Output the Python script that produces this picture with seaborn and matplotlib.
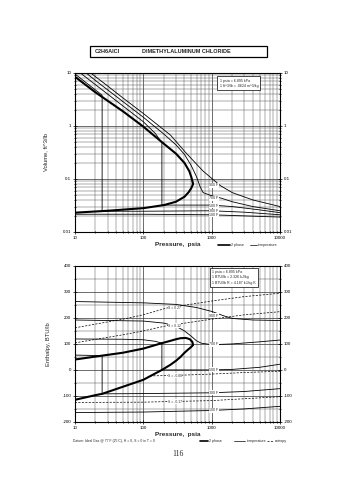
import numpy as np
import pandas as pd
import matplotlib
matplotlib.use("Agg")
import matplotlib.pyplot as plt
import seaborn as sns
from matplotlib.ticker import LogLocator, FixedLocator, NullFormatter, FixedFormatter, MultipleLocator

# ---------------- data ----------------
x_ticks = [10, 100, 1000, 10000]
x_tick_labels = ["10", "100", "1000", "10000"]
v_ticks = [0.01, 0.1, 1, 10]
v_tick_labels = ["0.01", "0.1", "1", "10"]
h_ticks = [-200, -100, 0, 100, 200, 300, 400]
h_tick_labels = ["-200", "-100", "0", "100", "200", "300", "400"]

# saturation dome, volume chart
liq_P_v = [10, 30, 100, 200, 300, 400, 460, 500, 535]
liq_v = [0.023, 0.025, 0.028, 0.032, 0.037, 0.046, 0.056, 0.066, 0.08]
vap_P_v = [535, 520, 505, 470, 400, 300, 200, 100, 50, 20, 10]
vap_v = [0.08, 0.092, 0.107, 0.14, 0.2, 0.3, 0.46, 0.97, 1.9, 4.3, 8.5]

# isotherms, volume chart
iso_names = ["900 F", "700 F", "500 F", "300 F", "100 F"]
t1_P_v = [17, 30, 50, 100, 250, 430, 750, 1330, 2000, 4000, 10000]
t1_v = [10, 5.7, 3.4, 1.72, 0.67, 0.3, 0.14, 0.075, 0.055, 0.04, 0.030]
t2_P_v = [14.6, 20, 50, 100, 200, 300, 400, 500, 600, 680, 750, 1000, 1400, 2000, 4000, 10000]
t2_v = [10, 7.2, 2.9, 1.46, 0.7, 0.44, 0.29, 0.18, 0.11, 0.07, 0.055, 0.048, 0.043, 0.037, 0.030, 0.025]
t3_P_v = [12, 20, 50, 100, 150, 187, 187, 500, 1000, 2000, 5000, 10000]
t3_v = [10, 6.0, 2.4, 1.2, 0.72, 0.48, 0.032, 0.032, 0.032, 0.030, 0.026, 0.023]
t4_P_v = [10, 25, 25, 100, 1000, 3000, 10000]
t4_v = [9.6, 3.8, 0.0245, 0.0245, 0.025, 0.0235, 0.021]
t5_P_v = [10, 100, 1000, 3000, 10000]
t5_v = [0.0215, 0.0215, 0.021, 0.020, 0.019]

# saturation dome, enthalpy chart
liq_P_h = [10, 20, 25, 50, 100, 187, 250, 300, 350, 400, 450, 500, 535]
liq_h = [-115, -97, -92, -65, -38, 0, 20, 35, 50, 66, 78, 88, 96]
vap_P_h = [535, 520, 480, 420, 350, 300, 250, 187, 100, 50, 25, 10]
vap_h = [96, 108, 118, 123, 122, 118, 112, 103, 82, 66, 55, 40]

# isotherms, enthalpy chart
t1_P_h = [10, 100, 300, 600, 1000, 1500, 2000, 4000, 10000]
t1_h = [263, 258, 252, 240, 225, 208, 198, 192, 190]
t2_P_h = [10, 100, 200, 300, 400, 500, 600, 700, 1000, 2000, 5000, 10000]
t2_h = [192, 188, 180, 168, 150, 130, 112, 103, 97, 100, 108, 115]
t3_P_h = [10, 50, 100, 150, 187, 187, 500, 1000, 2000, 5000, 10000]
t3_h = [119, 118, 116, 110, 103, 0, 0, 0, 2, 10, 22]
t4_P_h = [10, 25, 25, 100, 1000, 3000, 10000]
t4_h = [57, 55, -92, -91, -88, -83, -72]
t5_P_h = [10, 100, 1000, 3000, 10000]
t5_h = [-164, -162, -156, -150, -140]

# entropy lines, enthalpy chart
ent_names = ["S = 0.27", "S = 0.12", "S = -0.08", "S = -0.17"]
s1_P = [10, 50, 100, 220, 1000, 3000, 10000]
s1_h = [162, 195, 212, 238, 265, 282, 295]
s2_P = [10, 50, 100, 220, 1000, 3000, 10000]
s2_h = [104, 135, 150, 170, 195, 212, 224]
s3_P = [125, 300, 1000, 3000, 10000]
s3_h = [-23, -21, -16, -10, -5]
s4_P = [10, 100, 1000, 10000]
s4_h = [-125, -124, -118, -103]

# ---------------- style ----------------
sns.set_theme(style="white")
plt.rcParams["font.family"] = ["Liberation Sans", "DejaVu Sans"]

fig = plt.figure(figsize=(3.55, 4.8), dpi=100)
fig.patch.set_facecolor("white")
ax1 = fig.add_axes([0.211, 0.517, 0.578, 0.331])
ax2 = fig.add_axes([0.211, 0.121, 0.578, 0.325])

TICK_FS = 3.2


def draw(ax, P, y, lw, ls="-"):
    sns.lineplot(x=P, y=y, ax=ax, sort=False, estimator=None, color="black",
                 lw=lw, linestyle=ls, legend=False)


def style_axes(ax, logy):
    ax.set_xscale("log")
    ax.set_xlim(10, 10000)
    ax.xaxis.set_major_locator(FixedLocator(x_ticks))
    ax.xaxis.set_major_formatter(FixedFormatter(x_tick_labels))
    ax.xaxis.set_minor_locator(LogLocator(base=10, subs=np.arange(2, 10)))
    ax.xaxis.set_minor_formatter(NullFormatter())
    if logy:
        ax.set_yscale("log")
        ax.set_ylim(0.01, 10)
        ax.yaxis.set_major_locator(FixedLocator(v_ticks))
        ax.yaxis.set_major_formatter(FixedFormatter(v_tick_labels))
        ax.yaxis.set_minor_locator(LogLocator(base=10, subs=np.arange(2, 10)))
        ax.yaxis.set_minor_formatter(NullFormatter())
    else:
        ax.set_ylim(-200, 400)
        ax.yaxis.set_major_locator(FixedLocator(h_ticks))
        ax.yaxis.set_major_formatter(FixedFormatter(h_tick_labels))
        ax.yaxis.set_minor_locator(MultipleLocator(50))
    ax.grid(which="major", color="#333333", lw=0.5)
    ax.grid(which="minor", color="#5a5a5a", lw=0.35)
    ax.tick_params(which="both", direction="inout", length=2.5, width=0.5,
                   labelsize=TICK_FS, pad=1.5, colors="black",
                   right=True, labelright=True, bottom=True, left=True)
    ax.tick_params(which="minor", length=1.5)
    for s in ax.spines.values():
        s.set_color("black")
        s.set_linewidth(0.8)
    ax.set_xlabel("")
    ax.set_ylabel("")


# ---------------- top chart: volume ----------------
draw(ax1, liq_P_v + vap_P_v, liq_v + vap_v, 1.5)
iso_v = [(t1_P_v, t1_v), (t2_P_v, t2_v), (t3_P_v, t3_v), (t4_P_v, t4_v), (t5_P_v, t5_v)]
for P, v in iso_v:
    draw(ax1, P, v, 0.6)
style_axes(ax1, True)
for (P, v), name in zip(iso_v, iso_names):
    yv = 10 ** np.interp(np.log10(1250), np.log10(P[-4:]), np.log10(v[-4:]))
    ax1.text(1250, yv, name, fontsize=2.6, ha="right", va="center",
             bbox=dict(boxstyle="square,pad=0.1", fc="white", ec="none"))
ax1.text(0.705, 0.965,
         "1 psia = 6.895 kPa\n1 ft^3/lb = .0624 m^3/kg",
         transform=ax1.transAxes, fontsize=2.6, va="top", ha="left", linespacing=1.5,
         bbox=dict(boxstyle="square,pad=0.6", fc="white", ec="black", lw=0.5))
ax1.set_ylabel("Volume, ft^3/lb", fontsize=4.2, labelpad=10)
ax1.set_xlabel("Pressure,  psia", fontsize=4.6, fontweight="bold", labelpad=1.5)

# ---------------- bottom chart: enthalpy ----------------
draw(ax2, liq_P_h + vap_P_h, liq_h + vap_h, 1.5)
iso_h = [(t1_P_h, t1_h), (t2_P_h, t2_h), (t3_P_h, t3_h), (t4_P_h, t4_h), (t5_P_h, t5_h)]
for P, h in iso_h:
    draw(ax2, P, h, 0.6)
ents = [(s1_P, s1_h), (s2_P, s2_h), (s3_P, s3_h), (s4_P, s4_h)]
for P, h in ents:
    draw(ax2, P, h, 0.5, ls=(0, (3, 2)))
style_axes(ax2, False)
for (P, h), name in zip(iso_h, iso_names):
    yh = np.interp(np.log10(1250), np.log10(P[-4:]), h[-4:])
    ax2.text(1250, yh, name, fontsize=2.6, ha="right", va="center",
             bbox=dict(boxstyle="square,pad=0.1", fc="white", ec="none"))
for (P, h), name in zip(ents, ent_names):
    yh = np.interp(np.log10(230), np.log10(P), h)
    ax2.text(230, yh, name, fontsize=2.4, ha="left", va="center",
             bbox=dict(boxstyle="square,pad=0.1", fc="white", ec="none"))
ax2.text(0.67, 0.975,
         "1 psia = 6.895 kPa\n1 BTU/lb = 2.326 kJ/kg\n1 BTU/lb R = 4.187 kJ/kg K",
         transform=ax2.transAxes, fontsize=2.6, va="top", ha="left", linespacing=1.5,
         bbox=dict(boxstyle="square,pad=0.6", fc="white", ec="black", lw=0.5))
ax2.set_ylabel("Enthalpy, BTU/lb", fontsize=4.2, labelpad=8)
ax2.set_xlabel("Pressure,  psia", fontsize=4.6, fontweight="bold", labelpad=1.5)

# ---------------- title box, legends, footer ----------------
fig.text(0.268, 0.893, "C2H6AlCl", fontsize=4.0, fontweight="bold", va="center")
fig.text(0.40, 0.893, "DIMETHYLALUMINUM CHLORIDE", fontsize=4.0, fontweight="bold", va="center")
fig.add_artist(plt.Rectangle((0.254, 0.881), 0.498, 0.024, transform=fig.transFigure,
                             fill=False, ec="black", lw=0.9))


def fig_leg(x0, x1, y, ls, lw):
    fig.add_artist(matplotlib.lines.Line2D([x0, x1], [y, y], transform=fig.transFigure,
                                           color="black", lw=lw, linestyle=ls))


LEG_Y = 0.490
fig_leg(0.615, 0.647, LEG_Y, "-", 1.2)
fig.text(0.652, LEG_Y, "2 phase", fontsize=2.6, va="center")
fig_leg(0.705, 0.723, LEG_Y, "-", 0.5)
fig.text(0.727, LEG_Y, "temperature", fontsize=2.6, va="center")

fig_leg(0.563, 0.585, 0.082, "-", 1.2)
fig.text(0.590, 0.082, "2 phase", fontsize=2.6, va="center")
fig_leg(0.660, 0.690, 0.082, "-", 0.5)
fig.text(0.695, 0.082, "temperature", fontsize=2.6, va="center")
fig_leg(0.752, 0.770, 0.082, (0, (3, 2)), 0.5)
fig.text(0.774, 0.082, "entropy", fontsize=2.6, va="center")
fig.text(0.206, 0.082, "Datum: Ideal Gas @ 77 F (25 C), H = 0, S = 0 in T = 0",
         fontsize=2.4, va="center")

fig.text(0.502, 0.055, "116", fontsize=5.5, ha="center", va="center",
         family=["Liberation Serif", "DejaVu Serif"])

fig.savefig("out.png", dpi=100, facecolor="white")
